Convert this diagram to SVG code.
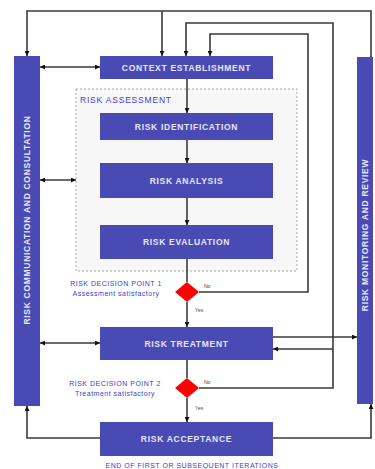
<svg xmlns="http://www.w3.org/2000/svg" width="375" height="469" viewBox="0 0 375 469">
<defs>
<marker id="ah" viewBox="0 0 10 10" refX="10" refY="5" markerWidth="5" markerHeight="5" orient="auto-start-reverse" markerUnits="userSpaceOnUse">
<path d="M0,0 L10,5 L0,10 Z" fill="#111"/>
</marker>
<style>
.box{fill:#4a4ab4;}
.bt{font-family:"Liberation Sans",Arial,sans-serif;font-size:8.5px;font-weight:bold;fill:#e6e6ff;text-anchor:middle;letter-spacing:0.7px;}
.ln{fill:none;stroke:#3a3a3a;stroke-width:1.6;}
.bl{font-family:"Liberation Sans",Arial,sans-serif;fill:#4040d0;text-anchor:middle;letter-spacing:0.5px;}
.sm{font-family:"Liberation Sans",Arial,sans-serif;font-size:5px;fill:#444;}
.dm{fill:#ff0000;}
</style>
</defs>
<rect width="375" height="469" fill="#ffffff"/>

<g id="risk-assessment">
<rect x="76" y="89" width="221" height="182" fill="#f7f7f7" stroke="#a8a8a8" stroke-width="1" stroke-dasharray="2,2"/>
<text class="bl" x="80" y="103" style="font-size:8.5px;text-anchor:start;letter-spacing:0.8px">RISK ASSESSMENT</text>
</g>

<g id="connectors">
<polyline class="ln" points="371,57 371,11 27,11 27,56" marker-end="url(#ah)"/>
<line class="ln" x1="162" y1="11" x2="162" y2="56" marker-end="url(#ah)"/>
<polyline class="ln" points="199,388 333,388 333,23 186,23 186,56" marker-end="url(#ah)"/>
<polyline class="ln" points="199,292 308,292 308,34 210,34 210,56" marker-end="url(#ah)"/>
<line class="ln" x1="187" y1="79" x2="187" y2="113" marker-end="url(#ah)"/>
<line class="ln" x1="187" y1="140" x2="187" y2="163" marker-end="url(#ah)"/>
<line class="ln" x1="187" y1="198" x2="187" y2="225" marker-end="url(#ah)"/>
<line class="ln" x1="187" y1="259" x2="187" y2="282"/>
<line class="ln" x1="187" y1="302" x2="187" y2="327" marker-end="url(#ah)"/>
<line class="ln" x1="187" y1="360" x2="187" y2="378"/>
<line class="ln" x1="187" y1="398" x2="187" y2="422" marker-end="url(#ah)"/>
<line class="ln" x1="40" y1="67" x2="100" y2="67" marker-start="url(#ah)" marker-end="url(#ah)"/>
<line class="ln" x1="40" y1="180" x2="76" y2="180" marker-start="url(#ah)" marker-end="url(#ah)"/>
<line class="ln" x1="40" y1="343" x2="100" y2="343" marker-start="url(#ah)" marker-end="url(#ah)"/>
<line class="ln" x1="273" y1="337" x2="357" y2="337" marker-end="url(#ah)"/>
<line class="ln" x1="333" y1="349" x2="273" y2="349" marker-end="url(#ah)"/>
<polyline class="ln" points="100,438 27,438 27,406" marker-end="url(#ah)"/>
<polyline class="ln" points="273,438 371,438 371,404" marker-end="url(#ah)"/>
<text class="sm" x="204" y="288">No</text>
<text class="sm" x="195" y="312">Yes</text>
<text class="sm" x="204" y="384">No</text>
<text class="sm" x="195" y="410">Yes</text>
</g>

<g id="communication">
<rect class="box" x="14" y="56" width="26" height="350"/>
<text class="bt" transform="translate(30,220) rotate(-90)">RISK COMMUNICATION AND CONSULTATION</text>
</g>

<g id="monitoring">
<rect class="box" x="357" y="57" width="16" height="347"/>
<text class="bt" transform="translate(368,235) rotate(-90)">RISK MONITORING AND REVIEW</text>
</g>

<g id="context">
<rect class="box" x="100" y="56" width="173" height="23"/>
<text class="bt" x="186.5" y="70.5">CONTEXT ESTABLISHMENT</text>
</g>

<g id="identification">
<rect class="box" x="100" y="113" width="173" height="27"/>
<text class="bt" x="186.5" y="129.5">RISK IDENTIFICATION</text>
</g>

<g id="analysis">
<rect class="box" x="100" y="163" width="173" height="35"/>
<text class="bt" x="186.5" y="183.5">RISK ANALYSIS</text>
</g>

<g id="evaluation">
<rect class="box" x="100" y="225" width="173" height="34"/>
<text class="bt" x="186.5" y="245">RISK EVALUATION</text>
</g>

<g id="decision1">
<polygon class="dm" points="187,282 199,292 187,302 175,292"/>
<text class="bl" x="116" y="285.5" style="font-size:7px">RISK DECISION POINT 1</text>
<text class="bl" x="116" y="295.5" style="font-size:7px">Assessment satisfactory</text>
</g>

<g id="treatment">
<rect class="box" x="100" y="327" width="173" height="33"/>
<text class="bt" x="186.5" y="346.5">RISK TREATMENT</text>
</g>

<g id="decision2">
<polygon class="dm" points="187,378 199,388 187,398 175,388"/>
<text class="bl" x="115" y="385.5" style="font-size:7px">RISK DECISION POINT 2</text>
<text class="bl" x="115" y="395.5" style="font-size:7px">Treatment satisfactory</text>
</g>

<g id="acceptance">
<rect class="box" x="100" y="422" width="173" height="34"/>
<text class="bt" x="186.5" y="442">RISK ACCEPTANCE</text>
<text class="bl" x="192" y="468" style="font-size:7px">END OF FIRST OR SUBSEQUENT ITERATIONS</text>
</g>
</svg>
